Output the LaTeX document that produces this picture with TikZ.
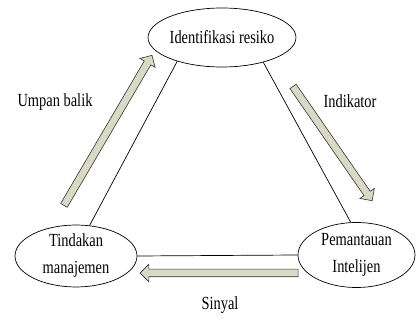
\documentclass[tikz,border=0pt]{standalone}
\usepackage{fontspec}
\setmainfont{Liberation Serif}[FakeStretch=0.78]
\usetikzlibrary{shapes.geometric,shapes.arrows}
\definecolor{arrowfill}{RGB}{216,218,196}
\begin{document}
\begin{tikzpicture}[x=1pt,y=-1pt,
  every node/.style={font=\fontsize{18.5}{27}\selectfont},
  oval/.style={draw,ellipse,line width=0.7pt,inner sep=0pt,align=center},
  fat/.style={single arrow,draw=black!80,fill=arrowfill,line width=0.6pt,
    inner sep=3.5pt,minimum width=17pt,single arrow head extend=5pt,
    single arrow tip angle=90,shape border uses incircle=false},
  conn/.style={line width=0.7pt},
  lbl/.style={inner sep=0pt}]
\useasboundingbox (0,0) rectangle (416,320);
\node[oval,minimum width=121pt,minimum height=59pt] (top) at (222,37.5) {Identifikasi resiko};
\node[oval,minimum width=122pt,minimum height=60pt] (left) at (76,256) {Tindakan\\manajemen};
\node[oval,minimum width=117pt,minimum height=65pt] (right) at (356.5,255) {Pemantauan\\Intelijen};
\draw[conn] (top.208) -- (left.66);
\draw[conn] (top.329) -- (right.100);
\draw[conn] (left.east) -- (right.west);
\node[fat,minimum height=174pt,rotate=59.6] (a1) at (107,132) {};
\node[fat,minimum height=139pt,rotate=-55.3] (a2) at (331.5,142) {};
\node[fat,minimum height=158pt,rotate=180] (a3) at (221,273) {};
\node[lbl] (l1) at (55,102) {Umpan balik};
\node[lbl] (l2) at (350,101) {Indikator};
\node[lbl] (l3) at (220,305) {Sinyal};
\end{tikzpicture}
\end{document}
